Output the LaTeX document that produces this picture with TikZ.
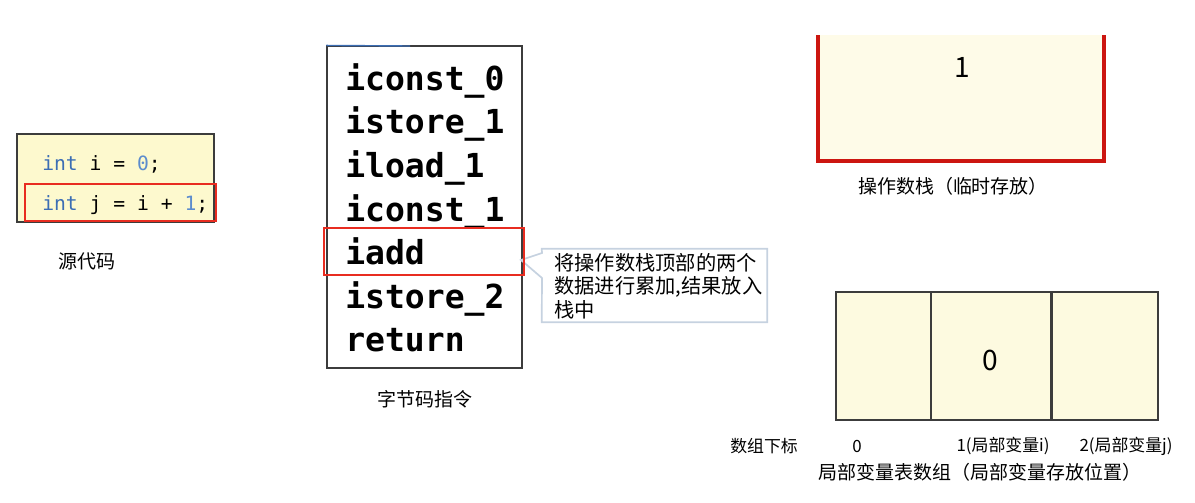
\documentclass[tikz,border=0pt]{standalone}
\usepackage{fontspec}
\usepackage{xcolor}
\usepackage{tikz}
\usetikzlibrary{fit}
\setmainfont{Noto Sans CJK SC}
\setmonofont{DejaVu Sans Mono}
\definecolor{srcBg}{RGB}{253, 249, 206}
\definecolor{stackBg}{RGB}{254, 251, 232}
\definecolor{tableBg}{RGB}{253, 250, 224}
\definecolor{markRed}{RGB}{232, 44, 32}
\definecolor{stackRed}{RGB}{204, 22, 16}
\definecolor{kwBlue}{RGB}{60, 110, 180}
\definecolor{numBlue}{RGB}{92, 140, 205}
\definecolor{noteEdge}{RGB}{198, 210, 224}
\definecolor{frameGray}{RGB}{60, 60, 60}

\begin{document}
\begin{tikzpicture}[x=0.025cm, y=-0.025cm,
    caption/.style={inner sep=0pt, font=\fontsize{13.5}{16}\selectfont},
    smallcap/.style={inner sep=0pt, font=\fontsize{12}{14}\selectfont},
    opcode/.style={anchor=base west, inner sep=0pt, font=\ttfamily\bfseries\fontsize{23.5}{26}\selectfont},
    srcline/.style={anchor=base west, inner sep=0pt, font=\ttfamily\fontsize{14}{16}\selectfont},
    markbox/.style={draw=markRed, line width=1.4pt, inner sep=0pt},
    cell/.style={draw=frameGray, line width=0.8pt, fill=tableBg, inner sep=0pt},
    bignum/.style={inner sep=0pt, font=\fontsize{20}{22}\selectfont}]
  \useasboundingbox (0,0) rectangle (1195,502);

  % Source code box
  \node[fit={(17,134) (214,222)}, draw=frameGray, line width=0.8pt, fill=srcBg, inner sep=0pt] (src) {};
  \node[srcline] (srcA) at (42,170) {\textcolor{kwBlue}{int} i = \textcolor{numBlue}{0};};
  \node[srcline] (srcB) at (42,210) {\textcolor{kwBlue}{int} j = i + \textcolor{numBlue}{1};};
  \node[markbox, fit={(25,184) (216,221)}] (srcmark) {};
  \node[caption] (srcname) at (87,261) {源代码};

  % Bytecode instructions
  \node[fit={(327,46) (522,368)}, draw=frameGray, line width=0.8pt, inner sep=0pt] (bytecode) {};
  \draw[kwBlue, line width=1pt] (bytecode.north west) -- (410,46);
  \node[opcode] (op0) at (345,90) {iconst\_0};
  \node[opcode] (op1) at (345,133) {istore\_1};
  \node[opcode] (op2) at (345,177) {iload\_1};
  \node[opcode] (op3) at (345,221) {iconst\_1};
  \node[opcode] (op4) at (345,264) {iadd};
  \node[opcode] (op5) at (345,308) {istore\_2};
  \node[opcode] (op6) at (345,351) {return};
  \node[caption] (bcname) at (425,399) {字节码指令};

  % Callout for iadd
  \coordinate (tip) at (521,260);
  \node[fit={(542,249) (767,322)}, inner sep=0pt] (note) {};
  \draw[noteEdge, line width=1.2pt, fill=white] (note.north west) -- (note.north east) -- (note.south east) -- (note.south west) -- (542,278) -- (tip) -- (542,253) -- cycle;
  \node[anchor=west, align=left, inner sep=0pt, font=\fontsize{14.4}{16.8}\selectfont] (notetext) at (554,286) {将操作数栈顶部的两个\\数据进行累加,结果放入\\栈中};
  \node[markbox, fit={(324,228) (524,275)}] (iaddmark) {};

  % Operand stack
  \fill[stackBg] (818,35) rectangle (1104,161);
  \draw[stackRed, line width=2.2pt] (818,35) -- (818,161) -- (1104,161) -- (1104,35);
  \node[bignum] (top) at (962,67) {1};
  \node[caption] (stackname) at (953,186) {操作数栈（临时存放）};

  % Local variable table
  \node[cell, fit={(836,292) (931,420)}] (cell0) {};
  \node[cell, fit={(931,292) (1052,420)}] (cell1) {};
  \node[cell, fit={(1052,292) (1158,420)}] (cell2) {};
  \draw[frameGray, line width=1.4pt] (cell2.north west) -- (cell2.south west);
  \node[bignum] (val1) at (990,360) {0};
  \node[smallcap] (idxname) at (764,446) {数组下标};
  \node[smallcap] (idx0) at (857,446) {0};
  \node[smallcap] (idx1) at (1003,446) {1(局部变量i)};
  \node[smallcap] (idx2) at (1126,446) {2(局部变量j)};
  \node[caption] (tablename) at (980,472) {局部变量表数组（局部变量存放位置）};
\end{tikzpicture}
\end{document}
